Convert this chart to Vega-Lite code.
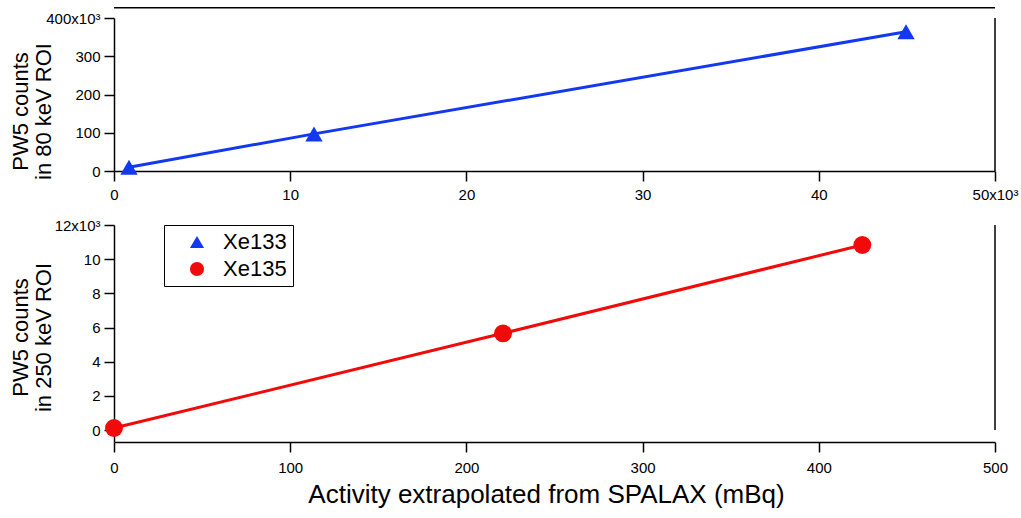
{
  "$schema": "https://vega.github.io/schema/vega-lite/v6.json",
  "background": "white",
  "padding": {"left": 8, "top": 6, "right": 5, "bottom": 5},
  "bounds": "flush",
  "spacing": 54,
  "config": {
    "font": "Liberation Sans",
    "view": {"stroke": null},
    "axis": {
      "grid": false,
      "domainColor": "black",
      "domainWidth": 1.5,
      "tickColor": "black",
      "tickWidth": 1.5,
      "tickSize": 10,
      "labelColor": "black",
      "labelFontSize": 15,
      "labelOverlap": false,
      "labelFlush": false,
      "labelFont": "Liberation Sans",
      "titleFont": "Liberation Sans",
      "titleColor": "black",
      "titleFontWeight": "normal"
    }
  },
  "resolve": {
    "scale": {"color": "independent", "shape": "independent"},
    "legend": {"color": "independent", "shape": "independent"}
  },
  "vconcat": [
    {
      "width": 881,
      "height": 153,
      "data": {"values": [
        {"isotope": "Xe133", "activity": 850, "counts": 10000},
        {"isotope": "Xe133", "activity": 11350, "counts": 97000},
        {"isotope": "Xe133", "activity": 44950, "counts": 364000}
      ]},
      "layer": [
        {
          "mark": {"type": "line", "color": "#1238f0", "strokeWidth": 3},
          "encoding": {
            "x": {"field": "activity", "type": "quantitative",
              "scale": {"domain": [0, 50000], "nice": false, "zero": false},
              "axis": {"values": [0, 10000, 20000, 30000, 40000, 50000], "tickCount": 20,
                "labelExpr": "datum.value == 50000 ? '50x10³' : format(datum.value/1000, 'd')",
                "labelOverlap": false, "labelFlush": false,
                "title": null, "labelPadding": 6}},
            "y": {"field": "counts", "type": "quantitative",
              "scale": {"domain": [0, 400000], "nice": false, "zero": false},
              "axis": {"values": [0, 100000, 200000, 300000, 400000], "tickCount": 20,
                "labelExpr": "datum.value == 400000 ? '400x10³' : format(datum.value/1000, 'd')",
                "labelOverlap": false, "labelFlush": false,
                "labelPadding": 4,
                "title": ["PW5 counts", "in 80 keV ROI"],
                "titleFontSize": 22, "titleLineHeight": 23,
                "titleX": -87, "titleY": 93, "titleBaseline": "alphabetic", "titleAlign": "center"}}
          }
        },
        {
          "mark": {"type": "point", "filled": true, "size": 300, "opacity": 1},
          "encoding": {
            "x": {"field": "activity", "type": "quantitative"},
            "y": {"field": "counts", "type": "quantitative"},
            "color": {"field": "isotope", "type": "nominal",
              "scale": {"domain": ["Xe133", "Xe135"], "range": ["#1238f0", "#f00a0a"]}, "legend": null},
            "shape": {"field": "isotope", "type": "nominal",
              "scale": {"domain": ["Xe133", "Xe135"], "range": ["triangle-up", "circle"]}, "legend": null}
          }
        },
        {
          "data": {"values": [{}]},
          "mark": {"type": "rule", "color": "black", "strokeWidth": 1.5},
          "encoding": {"x": {"datum": 0}, "x2": {"datum": 50000}, "y": {"datum": 427000}}
        },
        {
          "data": {"values": [{}]},
          "mark": {"type": "rule", "color": "black", "strokeWidth": 1.5},
          "encoding": {"x": {"datum": 50000}, "y": {"datum": 0}, "y2": {"datum": 400000}}
        }
      ]
    },
    {
      "width": 881,
      "height": 217,
      "data": {"values": [
        {"isotope": "Xe135", "activity": 0, "counts": 120},
        {"isotope": "Xe135", "activity": 220.8, "counts": 5660},
        {"isotope": "Xe135", "activity": 424.7, "counts": 10830}
      ]},
      "layer": [
        {
          "mark": {"type": "line", "color": "#f00a0a", "strokeWidth": 3},
          "encoding": {
            "x": {"field": "activity", "type": "quantitative",
              "scale": {"domain": [0, 500], "nice": false, "zero": false},
              "axis": {"values": [0, 100, 200, 300, 400, 500], "tickCount": 20,
                "labelOverlap": false, "labelFlush": false,
                "labelPadding": 8,
                "title": "Activity extrapolated from SPALAX (mBq)",
                "titleFontSize": 26, "titlePadding": 6, "titleX": 432}},
            "y": {"field": "counts", "type": "quantitative",
              "scale": {"domain": [-700, 12000], "nice": false, "zero": false},
              "axis": {"values": [0, 2000, 4000, 6000, 8000, 10000, 12000], "tickCount": 20,
                "labelExpr": "datum.value == 12000 ? '12x10³' : format(datum.value/1000, 'd')",
                "labelOverlap": false, "labelFlush": false,
                "labelPadding": 4,
                "title": ["PW5 counts", "in 250 keV ROI"],
                "titleFontSize": 22, "titleLineHeight": 23,
                "titleX": -87, "titleY": 112, "titleBaseline": "alphabetic", "titleAlign": "center"}}
          }
        },
        {
          "mark": {"type": "point", "filled": true, "size": 320, "opacity": 1},
          "encoding": {
            "x": {"field": "activity", "type": "quantitative"},
            "y": {"field": "counts", "type": "quantitative"},
            "color": {"field": "isotope", "type": "nominal",
              "scale": {"domain": ["Xe133", "Xe135"], "range": ["#1238f0", "#f00a0a"]},
              "legend": {"orient": "none", "legendX": 50, "legendY": 0, "title": null,
                "values": ["Xe133", "Xe135"],
                "fillColor": "white", "strokeColor": "black", "padding": 6,
                "symbolSize": 200, "symbolStrokeWidth": 0, "symbolOffset": 16,
                "labelFontSize": 22, "labelColor": "black", "labelOffset": 15, "rowPadding": 5}},
            "shape": {"field": "isotope", "type": "nominal",
              "scale": {"domain": ["Xe133", "Xe135"], "range": ["triangle-up", "circle"]},
              "legend": {"orient": "none", "legendX": 50, "legendY": 0, "title": null,
                "values": ["Xe133", "Xe135"],
                "fillColor": "white", "strokeColor": "black", "padding": 6,
                "symbolSize": 200, "symbolStrokeWidth": 0, "symbolOffset": 16,
                "labelFontSize": 22, "labelColor": "black", "labelOffset": 15, "rowPadding": 5}}
          }
        },
        {
          "data": {"values": [{}]},
          "mark": {"type": "rule", "color": "black", "strokeWidth": 1.5},
          "encoding": {"x": {"datum": 500}, "y": {"datum": 0}, "y2": {"datum": 12000}}
        }
      ]
    }
  ]
}
